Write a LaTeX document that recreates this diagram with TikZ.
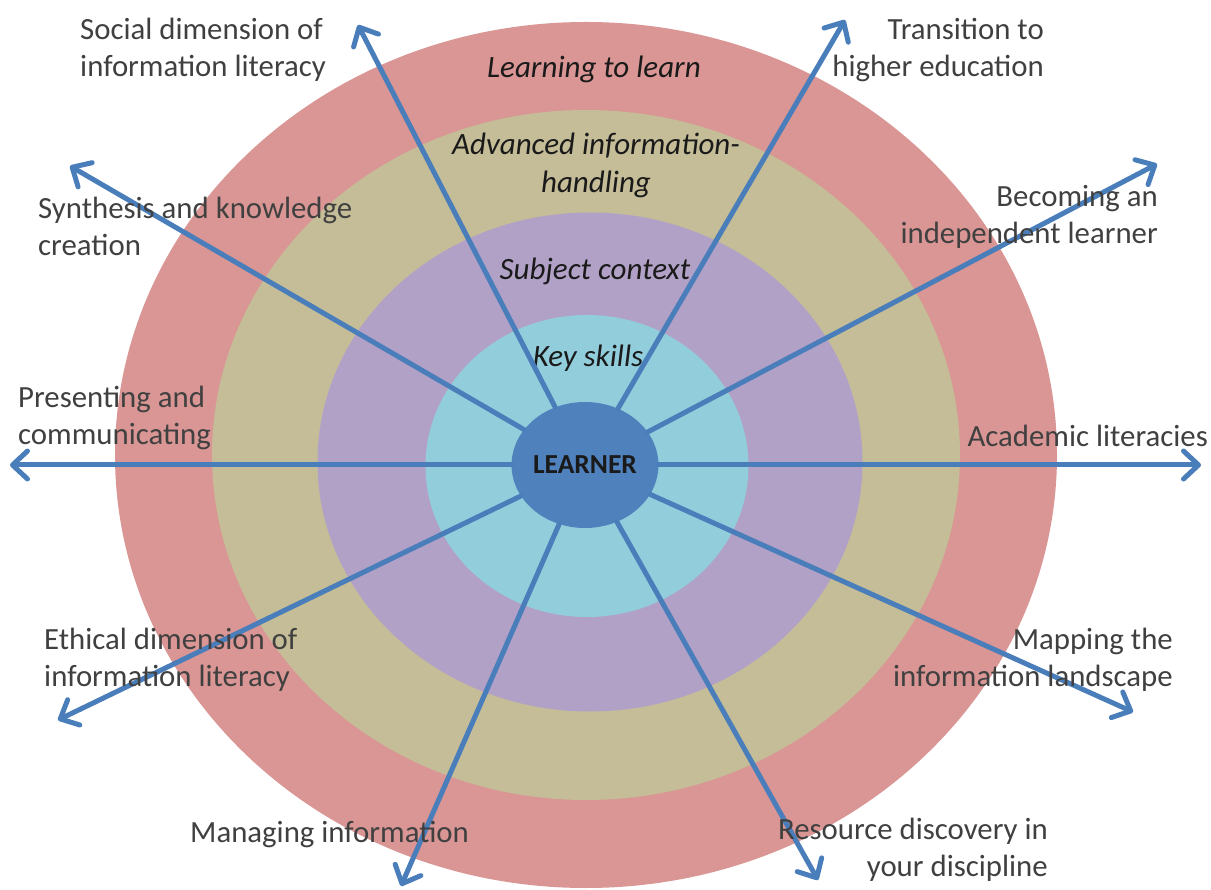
\documentclass[tikz,border=0pt]{standalone}
\usepackage{fontspec}
\setmainfont{Carlito}
\usetikzlibrary{arrows.meta,shapes.geometric}
\definecolor{ringred}{HTML}{D99694}
\definecolor{ringtan}{HTML}{C4BD97}
\definecolor{ringpurple}{HTML}{B2A1C7}
\definecolor{ringcyan}{HTML}{92CDDC}
\definecolor{learnerblue}{HTML}{4F81BD}
\definecolor{spokeblue}{HTML}{4A7EBB}
\definecolor{labelgray}{HTML}{404040}
\definecolor{layertext}{HTML}{1A1A1A}
\tikzset{
  ring/.style={ellipse, draw=none, inner sep=0pt},
  learner/.style={ellipse, fill=learnerblue, draw=none, inner sep=0pt,
    font=\fontsize{27.5}{31}\selectfont\bfseries, text=layertext},
  spoke/.style={draw=spokeblue, line width=5pt, line cap=round,
    -{Straight Barb[length=15pt, width=28pt, line cap=round, line join=round]}},
  outer/.style={font=\fontsize{30.8}{37}\selectfont, text=labelgray, inner sep=0pt},
  layer/.style={font=\fontsize{31}{38}\selectfont\itshape, text=layertext, inner sep=0pt, align=center}
}
\begin{document}
\begin{tikzpicture}[x=1pt,y=-1pt]
\useasboundingbox (0,0) rectangle (1211,890);
\fill[white] (0,0) rectangle (1211,890);
% rings
\node[ring, fill=ringred, minimum width=942pt, minimum height=866pt] (red) at (586,455) {};
\node[ring, fill=ringtan, minimum width=748pt, minimum height=690pt] (tan) at (586,455) {};
\node[ring, fill=ringpurple, minimum width=545pt, minimum height=499pt] (purple) at (590,462) {};
\node[ring, fill=ringcyan, minimum width=323pt, minimum height=302pt] (cyan) at (587,466) {};
% layer labels
\node[layer] (lay1) at (594,69) {Learning to learn};
\node[layer] (lay2) at (596,165) {Advanced information-\\handling};
\node[layer] (lay3) at (595,271) {Subject context};
\node[layer] (lay4) at (588,358) {Key skills};
% learner
\node[learner, minimum width=144pt, minimum height=126pt] (L) at (585,465) {LEARNER};
% arrow tips
\coordinate (tSoc) at (358,25);
\coordinate (tTra) at (845,20);
\coordinate (tBec) at (1157,164);
\coordinate (tAca) at (1201,465);
\coordinate (tMap) at (1133,712);
\coordinate (tRes) at (818,880);
\coordinate (tMan) at (401,886);
\coordinate (tEth) at (58,720);
\coordinate (tPre) at (10,465);
\coordinate (tSyn) at (70,166);
\foreach \t in {tSoc,tTra,tBec,tAca,tMap,tRes,tMan,tEth,tPre,tSyn}
  \draw[spoke] (L) -- (\t);
% outer labels
\node[outer, anchor=west, align=left] (soc) at (80,50) {Social dimension of\\information literacy};
\node[outer, anchor=east, align=right] (tra) at (1044,50) {Transition to\\higher education};
\node[outer, anchor=west, align=left] (syn) at (38,226) {Synthesis and knowledge\\creation};
\node[outer, anchor=east, align=right] (bec) at (1158,217) {Becoming an\\independent learner};
\node[outer, anchor=west, align=left] (pre) at (18,418) {Presenting and\\communicating};
\node[outer, anchor=east] (aca) at (1208,436) {Academic literacies};
\node[outer, anchor=west, align=left] (eth) at (44,660) {Ethical dimension of\\information literacy};
\node[outer, anchor=east, align=right] (map) at (1173,660) {Mapping the\\information landscape};
\node[outer, anchor=west] (man) at (190,834) {Managing information};
\node[outer, anchor=east, align=right] (res) at (1048,850) {Resource discovery in\\your discipline};
\end{tikzpicture}
\end{document}
